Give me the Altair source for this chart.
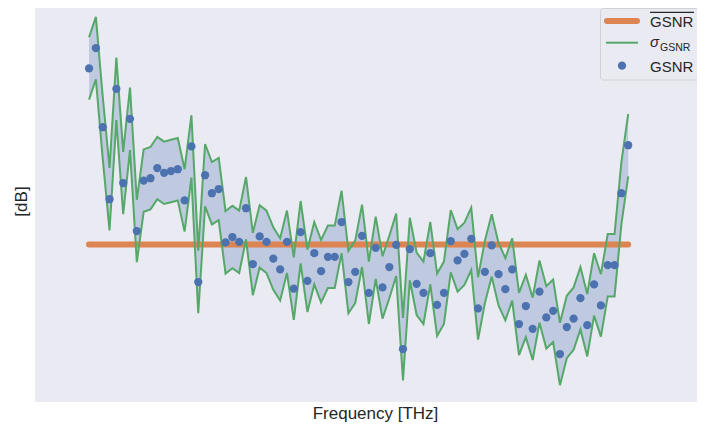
import altair as alt
import pandas as pd

# ---- data ----
gsnr_db = [15.56, 15.90, 14.58, 13.38, 15.22, 13.65, 14.72, 12.85, 13.69, 13.73,
           13.90, 13.82, 13.85, 13.88, 13.36, 14.26, 12.00, 13.78, 13.48, 13.55,
           12.66, 12.75, 12.67, 13.23, 12.30, 12.76, 12.67, 12.39, 12.21, 12.67,
           11.89, 12.83, 12.02, 12.48, 12.18, 12.42, 12.42, 13.00, 12.00, 12.17,
           12.77, 11.82, 12.57, 11.91, 12.25, 12.62, 10.88, 12.55, 11.97, 11.82,
           12.48, 11.62, 11.82, 12.68, 12.36, 12.47, 12.72, 11.56, 12.17, 12.61,
           12.13, 11.88, 12.21, 11.30, 11.60, 11.22, 11.84, 11.41, 11.52, 10.80,
           11.25, 11.39, 11.73, 11.28, 11.96, 11.61, 12.28, 12.28, 13.48, 14.28]
start_thz = 191.35
spacing_thz = 0.05
freq_thz = [round(start_thz + spacing_thz * i, 3) for i in range(len(gsnr_db))]
sigma_db = 0.52

legend_labels = ["GSNR", "\u03c3", "GSNR", "GSNR"]

df = pd.DataFrame({"freq": freq_thz, "gsnr": gsnr_db})

BLUE = "#4c72b0"
ORANGE = "#dd8452"
GREEN = "#55a868"
TEXT = "#262626"
BG = "#eaeaf2"

x_enc = alt.X("freq:Q",
              scale=alt.Scale(domain=[190.954, 195.804], nice=False, zero=False),
              axis=alt.Axis(labels=False, ticks=False, domain=False, grid=False,
                            title="Frequency [THz]", titleFontSize=17,
                            titleFontWeight="normal", titleColor=TEXT,
                            titleX=340, titleY=11, titleBaseline="middle",
                            titleAlign="center"))
y_scale = alt.Scale(domain=[10, 16.567], nice=False, zero=False)
y_axis = alt.Axis(labels=False, ticks=False, domain=False, grid=False,
                  title="[dB]", titleFontSize=17, titleFontWeight="normal",
                  titleColor=TEXT, titleX=-13.5, titleY=193,
                  titleAngle=270, titleBaseline="middle", titleAlign="center")

base = alt.Chart(df).transform_calculate(
    upper=f"datum.gsnr + {sigma_db}",
    lower=f"datum.gsnr - {sigma_db}",
)

band = base.mark_area(color=BLUE, opacity=0.27).encode(
    x=x_enc,
    y=alt.Y("upper:Q", scale=y_scale, axis=y_axis),
    y2="lower:Q",
)
mean_rule = alt.Chart(df).mark_rule(color=ORANGE, strokeWidth=6, strokeCap="round").encode(
    x=alt.X("min(freq):Q"),
    x2="max(freq):Q",
    y=alt.Y("mean(gsnr):Q"),
)
upper_line = base.mark_line(color=GREEN, strokeWidth=2).encode(
    x="freq:Q", y="upper:Q")
lower_line = base.mark_line(color=GREEN, strokeWidth=2).encode(
    x="freq:Q", y="lower:Q")
points = base.mark_circle(color=BLUE, size=68, opacity=1).encode(
    x="freq:Q", y="gsnr:Q")

# ---- manual legend (matplotlib style) ----
LX = -8  # shift so the legend texts stay inside the picture
one = pd.DataFrame({"k": [0]})
leg = alt.Chart(one)
leg_box = leg.mark_rect(fill=BG, opacity=0.8, stroke="#cccccc", strokeWidth=1,
                        cornerRadius=3).encode(
    x=alt.value(573.5 + LX), x2=alt.value(690), y=alt.value(0.5), y2=alt.value(72))
leg_mean = leg.mark_rule(color=ORANGE, strokeWidth=6, strokeCap="round").encode(
    x=alt.value(580 + LX), x2=alt.value(610 + LX), y=alt.value(13))
leg_sigma = leg.mark_rule(color=GREEN, strokeWidth=2).encode(
    x=alt.value(579 + LX), x2=alt.value(611 + LX), y=alt.value(34.7))
leg_pt = leg.mark_circle(color=BLUE, size=68, opacity=1).encode(
    x=alt.value(595 + LX), y=alt.value(57.7))
leg_t1 = leg.mark_text(align="left", baseline="alphabetic", fontSize=15, color=TEXT,
                       text=legend_labels[0]).encode(x=alt.value(623 + LX), y=alt.value(18.7))
leg_over = leg.mark_rule(color=TEXT, strokeWidth=1.2).encode(
    x=alt.value(623 + LX), x2=alt.value(667 + LX), y=alt.value(4.3))
leg_t2 = leg.mark_text(align="left", baseline="alphabetic", fontSize=15, color=TEXT,
                       fontStyle="italic", text=legend_labels[1]).encode(
    x=alt.value(623 + LX), y=alt.value(39))
leg_t2s = leg.mark_text(align="left", baseline="alphabetic", fontSize=10.5, color=TEXT,
                        text=legend_labels[2]).encode(x=alt.value(633 + LX), y=alt.value(43))
leg_t3 = leg.mark_text(align="left", baseline="alphabetic", fontSize=15, color=TEXT,
                       text=legend_labels[3]).encode(x=alt.value(623 + LX), y=alt.value(63.7))

chart = alt.layer(
    band, mean_rule, upper_line, lower_line, points,
    leg_box, leg_mean, leg_sigma, leg_pt, leg_t1, leg_over, leg_t2, leg_t2s, leg_t3,
).properties(
    width=662, height=394,
    autosize=alt.AutoSizeParams(type="none"),
    padding={"left": 27, "top": 0, "right": 0, "bottom": 21},
    background="white",
).configure(
    font="Liberation Sans"
).configure_view(
    fill=BG, stroke="transparent", strokeWidth=0
)

chart.save("out.html", embed_options={"renderer": "svg", "actions": False})
